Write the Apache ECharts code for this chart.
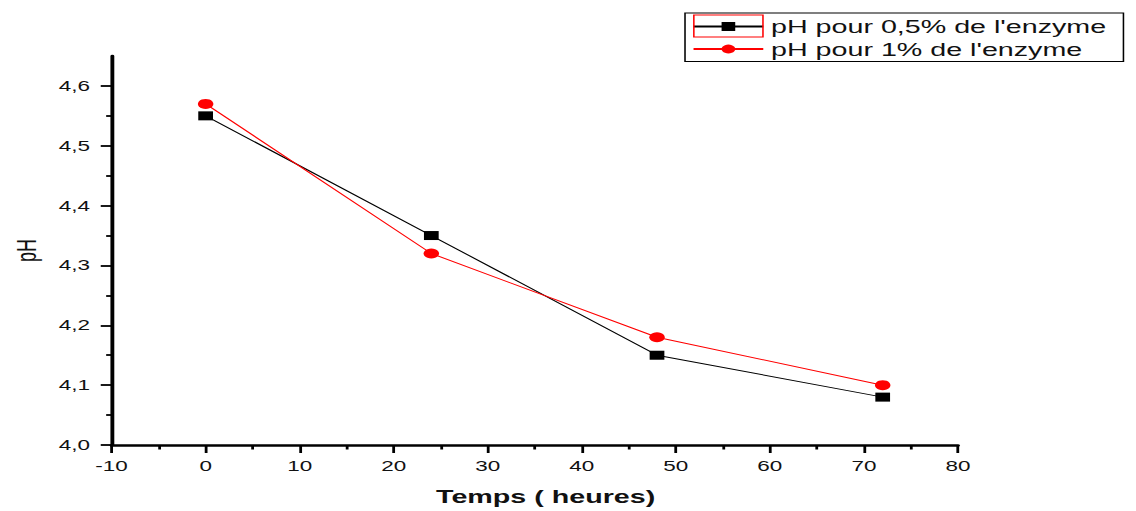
<!DOCTYPE html>
<html>
<head>
<meta charset="utf-8">
<script src="https://cdn.jsdelivr.net/npm/echarts@6/dist/echarts.min.js"></script>
<style>
  html, body { margin: 0; padding: 0; background: #fff; overflow: hidden; }
  /* The figure is drawn narrow and widened horizontally, like the original export */
  #chart { width: 733px; height: 511px; transform: scaleX(1.5498); transform-origin: 0 0; }
</style>
</head>
<body>
<div id="chart"></div>
<script>
// Measurements: pH over time for two enzyme doses
const hours = [0, 24, 48, 72];
const ph05 = [4.55, 4.35, 4.15, 4.08];
const ph1 = [4.57, 4.32, 4.18, 4.10];
const seriesNames = ["pH pour 0,5% de l'enzyme", "pH pour 1% de l'enzyme"];

// Axis ranges and ticks
const xMin = -10, xMax = 80, xStep = 10;
const yMin = 4.0, yMax = 4.65, yStep = 0.1;
const yTicks = [4.0, 4.1, 4.2, 4.3, 4.4, 4.5, 4.6];
const yMinorTicks = [4.05, 4.15, 4.25, 4.35, 4.45, 4.55];

const FONT = "'Liberation Sans', Arial, sans-serif";
const INK = '#111';

const chart = echarts.init(document.getElementById('chart'), null, { renderer: 'svg' });

const pairs = (xs, ys) => xs.map((x, i) => [x, ys[i]]);

chart.setOption({
  animation: false,
  backgroundColor: '#fff',
  textStyle: { fontFamily: FONT },
  grid: { left: 71.6, right: 114.9, top: 56, bottom: 64, containLabel: false },
  legend: {
    orient: 'vertical',
    left: 442,
    top: 13,
    padding: [4, 11, 3, 4.5],
    itemGap: 3.5,
    itemWidth: 45,
    itemHeight: 11,
    borderColor: '#000',
    borderWidth: 1,
    backgroundColor: '#fff',
    textStyle: { fontFamily: FONT, fontSize: 18.5, color: INK },
    data: seriesNames
  },
  // highlight frame around the first legend key
  graphic: [{
    type: 'rect',
    silent: true,
    z: 100,
    shape: { x: 447.7, y: 15, width: 44.6, height: 22 },
    style: { fill: 'none', stroke: '#ff0000', lineWidth: 1 }
  }],
  xAxis: {
    type: 'value',
    min: xMin,
    max: xMax,
    interval: xStep,
    name: 'Temps ( heures)',
    nameLocation: 'middle',
    nameGap: 42,
    nameTextStyle: { fontFamily: FONT, fontSize: 18.5, fontWeight: 'bold', color: INK, padding: [0, 0, 0, 14] },
    axisLine: { show: true, onZero: false, lineStyle: { color: '#000', width: 2.5 } },
    axisTick: { show: true, inside: false, length: 8, lineStyle: { color: '#000', width: 1.8 } },
    minorTick: { show: true, splitNumber: 2, length: 4.5, lineStyle: { color: '#000', width: 1.8 } },
    axisLabel: { fontFamily: FONT, fontSize: 14.5, color: INK, margin: 14 },
    splitLine: { show: false }
  },
  yAxis: [{
    type: 'value',
    min: yMin,
    max: yMax,
    interval: yStep,
    name: 'pH',
    nameLocation: 'middle',
    nameGap: 46,
    nameTextStyle: { fontFamily: FONT, fontSize: 18, color: INK },
    axisLine: { show: true, onZero: false, lineStyle: { color: '#000', width: 2.5 } },
    axisTick: { show: true, inside: false, length: 7, customValues: yTicks, lineStyle: { color: '#000', width: 1.8 } },
    axisLabel: {
      fontFamily: FONT, fontSize: 14.5, color: INK, margin: 14,
      customValues: yTicks,
      formatter: v => v.toFixed(1).replace('.', ',')
    },
    splitLine: { show: false }
  }, {
    // minor ticks only
    type: 'value',
    min: yMin,
    max: yMax,
    position: 'left',
    axisLine: { show: false, onZero: false },
    axisTick: { show: true, inside: false, length: 3.5, customValues: yMinorTicks, lineStyle: { color: '#000', width: 1.8 } },
    axisLabel: { show: false },
    splitLine: { show: false }
  }],
  series: [{
    name: seriesNames[0],
    type: 'line',
    data: pairs(hours, ph05),
    symbol: 'rect',
    symbolSize: [9.5, 9],
    itemStyle: { color: '#000' },
    lineStyle: { color: '#000', width: 1 },
    z: 2
  }, {
    name: seriesNames[1],
    type: 'line',
    data: pairs(hours, ph1),
    symbol: 'circle',
    symbolSize: 10,
    itemStyle: { color: '#ff0000' },
    lineStyle: { color: '#ff0000', width: 1 },
    z: 3
  }]
});
</script>
</body>
</html>
